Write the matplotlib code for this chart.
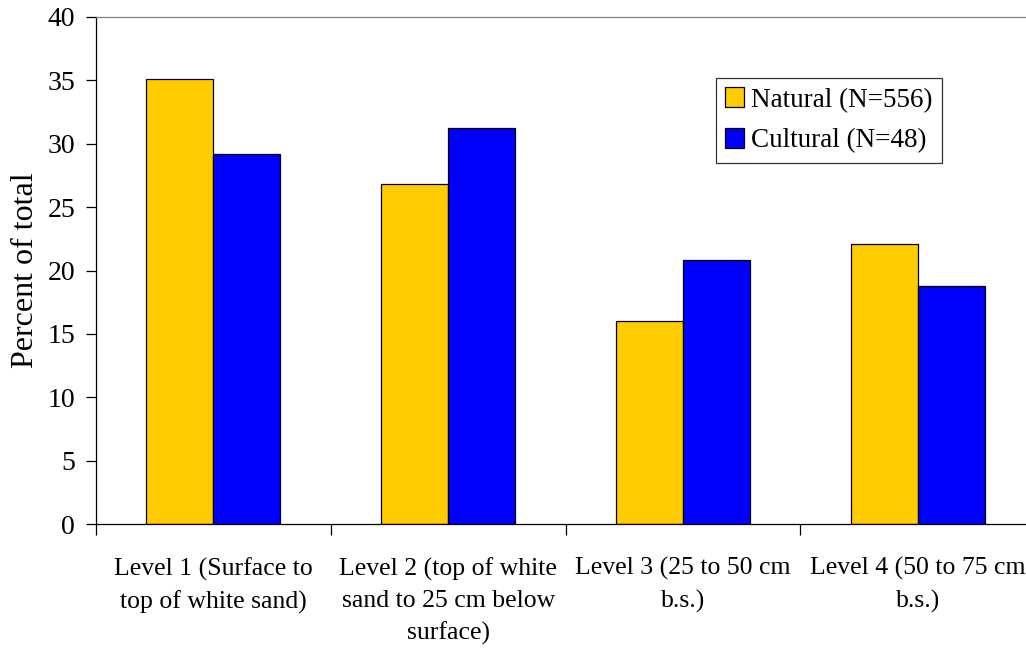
import matplotlib
matplotlib.use("Agg")
import matplotlib.pyplot as plt
import numpy as np

categories = ["Level 1 (Surface to\ntop of white sand)",
              "Level 2 (top of white\nsand to 25 cm below\nsurface)",
              "Level 3 (25 to 50 cm\nb.s.)",
              "Level 4 (50 to 75 cm\nb.s.)"]
natural = [35.07, 26.80, 16.01, 22.12]
cultural = [29.17, 31.25, 20.83, 18.75]
series_labels = ["Natural (N=556)", "Cultural (N=48)"]
yticks = [0, 5, 10, 15, 20, 25, 30, 35, 40]

plt.rcParams['font.family'] = ['Liberation Serif', 'DejaVu Serif']

fig = plt.figure(figsize=(10.26, 6.54), dpi=100)
ax = fig.add_axes([96/1026, 1-524/654, (1035-96)/1026, (524-17)/654])

x = np.arange(len(categories))
w = 0.285
ax.bar(x - w/2, natural, w, color='#FFCC00', edgecolor='black', linewidth=0.9, label=series_labels[0])
ax.bar(x + w/2, cultural, w, color='#0000FF', edgecolor='black', linewidth=0.9, label=series_labels[1])

ax.set_xlim(-0.5, len(categories) - 0.5)
ax.set_ylim(0, 40)
ax.set_yticks(yticks)
ax.set_yticklabels([str(t) for t in yticks], fontsize=20)
ax.set_xticks(np.arange(len(categories) + 1) - 0.5)
ax.set_xticklabels([])
ax.set_xticks(x, minor=True)
ax.set_xticklabels(categories, minor=True, fontsize=18.5, linespacing=1.55)
ax.tick_params(axis='x', which='minor', length=0, pad=24)
ax.tick_params(axis='x', which='major', length=8, direction='out', width=0.9)
ax.tick_params(axis='y', length=7, direction='out', width=0.9, pad=8)

ax.spines['right'].set_visible(False)
ax.spines['top'].set_color('#808080')
ax.spines['left'].set_color('black')
ax.spines['bottom'].set_color('black')
for s in ax.spines.values():
    s.set_linewidth(0.9)

ax.set_ylabel("Percent of total", fontsize=23, labelpad=5)

leg = ax.legend(loc='upper left', bbox_to_anchor=(716/1026, 1-78/654), bbox_transform=fig.transFigure,
                fontsize=19.5, frameon=True, fancybox=False, edgecolor='black',
                handlelength=0.7, handleheight=0.75, handletextpad=0.25, borderpad=0.35,
                labelspacing=0.55, borderaxespad=0)
leg.get_frame().set_linewidth(0.9)

fig.savefig("out.png", dpi=100)
